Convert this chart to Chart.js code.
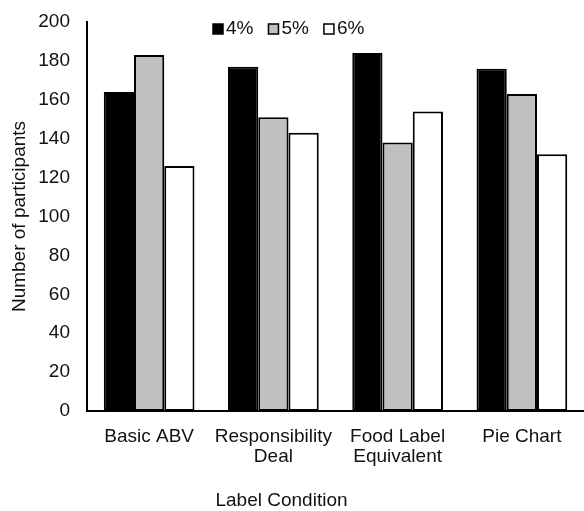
<!DOCTYPE html>
<html>
<head>
<meta charset="utf-8">
<script src="https://cdn.jsdelivr.net/npm/chart.js@4.4.0/dist/chart.umd.min.js"></script>
<style>
  html, body { margin: 0; padding: 0; background: #fff; }
  #wrap { width: 584px; height: 511px; position: relative; }
</style>
</head>
<body>
<div id="wrap"><canvas id="chart"></canvas></div>
<script>
const categories = ['Basic ABV', ['Responsibility', 'Deal'], ['Food Label', 'Equivalent'], 'Pie Chart'];
const seriesLabels = ['4%', '5%', '6%'];
const values4 = [164, 177, 184, 176];
const values5 = [183, 151, 138, 163];
const values6 = [126, 143, 154, 132];
const fills = ['#000000', '#c0c0c0', '#ffffff'];
const yTicks = { min: 0, max: 200, step: 20 };

const FONT = '"Liberation Sans", Arial, sans-serif';
const FS = 19;

// legend sits inside the plot, left of centre, like the original
const insideLegend = {
  id: 'insideLegend',
  afterDraw(chart) {
    const ctx = chart.ctx;
    ctx.save();
    ctx.font = `${FS}px ${FONT}`;
    ctx.textBaseline = 'middle';
    let x = 213;
    const y = 29;
    chart.data.datasets.forEach((ds) => {
      ctx.fillStyle = ds.backgroundColor;
      ctx.strokeStyle = '#000';
      ctx.lineWidth = 1.5;
      ctx.fillRect(x, y - 5, 10, 10);
      ctx.strokeRect(x, y - 5, 10, 10);
      ctx.fillStyle = '#111';
      ctx.textAlign = 'left';
      ctx.fillText(ds.label, x + 13, y);
      x += 13 + ctx.measureText(ds.label).width + 15;
    });
    ctx.restore();
  },
};

// x title is centred on the whole figure, not the plot area
const xTitle = {
  id: 'xTitle',
  afterDraw(chart) {
    const ctx = chart.ctx;
    ctx.save();
    ctx.font = `${FS}px ${FONT}`;
    ctx.fillStyle = '#111';
    ctx.textAlign = 'center';
    ctx.textBaseline = 'middle';
    ctx.fillText('Label Condition', chart.width * 0.482, 501);
    ctx.restore();
  },
};

const mkSet = (label, data, color) => ({
  label,
  data,
  backgroundColor: color,
  borderColor: '#000',
  borderWidth: 2,
  borderSkipped: false,
  barPercentage: 1,
  categoryPercentage: 0.73,
});

new Chart(document.getElementById('chart'), {
  type: 'bar',
  data: {
    labels: categories,
    datasets: [
      mkSet(seriesLabels[0], values4, fills[0]),
      mkSet(seriesLabels[1], values5, fills[1]),
      mkSet(seriesLabels[2], values6, fills[2]),
    ],
  },
  options: {
    responsive: true,
    maintainAspectRatio: false,
    animation: false,
    layout: { padding: { top: 22, right: 0, left: 0, bottom: 0 } },
    plugins: {
      legend: { display: false },
      tooltip: { enabled: false },
    },
    scales: {
      x: {
        grid: { display: false, drawTicks: false },
        border: { color: '#000', width: 2 },
        ticks: {
          color: '#111',
          font: { family: FONT, size: FS, lineHeight: 1.06 },
          padding: 16,
          maxRotation: 0,
          autoSkip: false,
        },
        afterFit: (scale) => { scale.height = 100; },
      },
      y: {
        min: yTicks.min,
        max: yTicks.max,
        grid: { display: false, drawTicks: false },
        border: { color: '#000', width: 2 },
        ticks: {
          stepSize: yTicks.step,
          color: '#111',
          font: { family: FONT, size: FS },
          padding: 17,
        },
        title: {
          display: true,
          text: 'Number of participants',
          color: '#111',
          font: { family: FONT, size: FS },
          padding: { top: 8, bottom: 0 },
        },
        afterFit: (scale) => {
          scale.width = 87;
          scale.paddingTop = 0;
          scale.paddingBottom = 0;
        },
      },
    },
  },
  plugins: [insideLegend, xTitle],
});
</script>
</body>
</html>
